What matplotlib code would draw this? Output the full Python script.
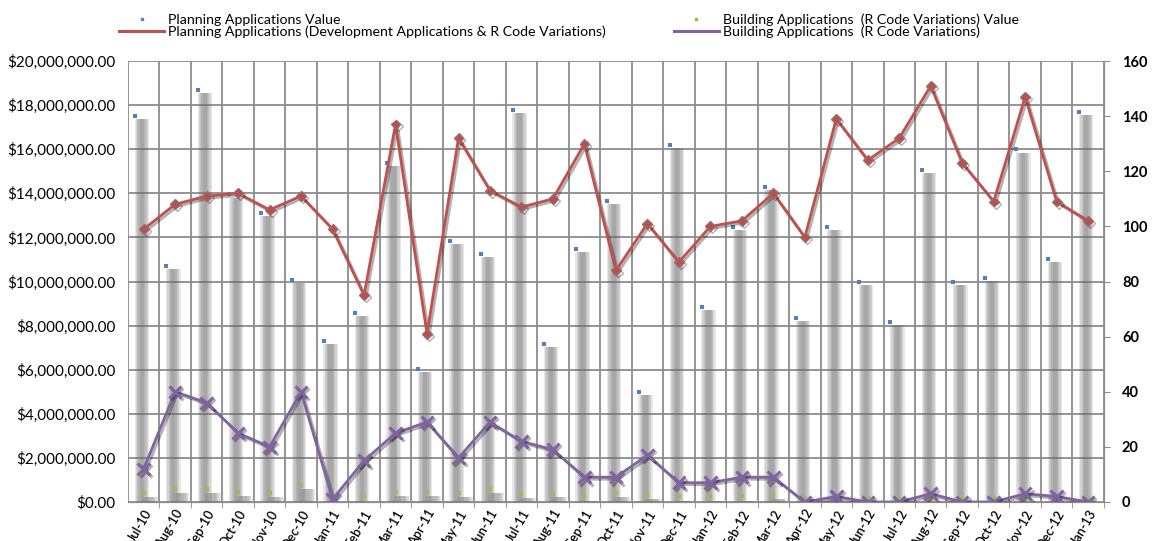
import matplotlib
matplotlib.use('Agg')
import matplotlib.pyplot as plt
import matplotlib.patheffects as pe
from matplotlib.lines import Line2D
from matplotlib.ticker import FuncFormatter, MultipleLocator
import numpy as np

plt.rcParams['font.family'] = ['Lato', 'DejaVu Sans']

# ── Data ─────────────────────────────────────────────────────────────────────
months = ['Jul-10', 'Aug-10', 'Sep-10', 'Oct-10', 'Nov-10', 'Dec-10',
          'Jan-11', 'Feb-11', 'Mar-11', 'Apr-11', 'May-11', 'Jun-11',
          'Jul-11', 'Aug-11', 'Sep-11', 'Oct-11', 'Nov-11', 'Dec-11',
          'Jan-12', 'Feb-12', 'Mar-12', 'Apr-12', 'May-12', 'Jun-12',
          'Jul-12', 'Aug-12', 'Sep-12', 'Oct-12', 'Nov-12', 'Dec-12',
          'Jan-13']

# $ values in millions (left axis)
planning_value = [17.5, 10.7, 18.68, 13.95, 13.1, 10.07, 7.3, 8.57, 15.37, 6.05,
                  11.84, 11.25, 17.78, 7.17, 11.47, 13.65, 4.99, 16.19, 8.84, 12.47,
                  14.29, 8.34, 12.47, 9.98, 8.16, 15.06, 9.98, 10.16, 16.0, 11.02,
                  17.69]
building_value = [0.21, 0.39, 0.39, 0.27, 0.21, 0.57, 0.0, 0.02, 0.27, 0.27,
                  0.21, 0.39, 0.17, 0.21, 0.06, 0.21, 0.12, 0.06, 0.06, 0.06,
                  0.12, 0.0, 0.0, 0.0, 0.0, 0.0, 0.0, 0.0, 0.0, 0.0,
                  0.0]
planning_value = [v * 1e6 for v in planning_value]
building_value = [v * 1e6 for v in building_value]

# counts (right axis)
planning_count = [99, 108, 111, 112, 106, 111, 99, 75, 137, 61,
                  132, 113, 107, 110, 130, 84, 101, 87, 100, 102,
                  112, 96, 139, 124, 132, 151, 123, 109, 147, 109,
                  102]
building_count = [12, 40, 36, 25, 20, 40, 1, 15, 25, 29,
                  16, 29, 22, 19, 9, 9, 17, 7, 7, 9,
                  9, 0, 2, 0, 0, 3, 0, 0, 3, 2,
                  0]

RED = '#C0504D'
PURPLE = '#8064A2'
BLUE = '#4F81BD'
GREEN = '#9BBB59'
GRID = '#8c8c8c'

# ── Plot ─────────────────────────────────────────────────────────────────────
fig = plt.figure(figsize=(11.61, 5.41), dpi=100)
ax = fig.add_axes([0.1102, 0.0721, 0.8406, 0.8151])
ax2 = ax.twinx()

x = np.arange(len(months))

# soft grey "shadow" columns, built from stacked translucent bars
shadow_top = np.array(planning_value) - 0.15e6
for w in [0.46, 0.38, 0.30, 0.22, 0.14]:
    ax.bar(x - 0.06, shadow_top, w, color='#6a6a6a', alpha=0.16,
           linewidth=0, zorder=2)
    ax.bar(x + 0.2, building_value, w + 0.05, color='#6a6a6a', alpha=0.12,
           linewidth=0, zorder=2)
ax.scatter(x - 0.28, planning_value, marker='s', s=5,
           color=BLUE, zorder=3, linewidths=0)
ax.scatter(x, np.array(building_value) + 0.2e6, marker='s', s=5, color=GREEN,
           zorder=3, linewidths=0)

ax.set_xlim(-0.5, len(months) - 0.5)
ax.set_ylim(0, 20e6)
ax.yaxis.set_major_locator(MultipleLocator(2e6))
ax.yaxis.set_major_formatter(FuncFormatter(lambda v, p: f'${v:,.2f}'))
ax.grid(axis='y', color=GRID, linewidth=1.3, zorder=1)
ax.set_xticks(x)
ax.set_xticklabels(months, rotation=60, ha='right', rotation_mode='anchor',
                   fontsize=9.2, fontweight='semibold')
ax.set_xticks(x + 0.5, minor=True)
ax.grid(axis='x', which='minor', color=GRID, linewidth=1.3, zorder=1)
ax.tick_params(axis='x', which='major', length=0, pad=4)
ax.tick_params(axis='x', which='minor', length=4, color=GRID)
ax.tick_params(axis='y', length=0, labelsize=11, pad=9)
ax.axvline(-0.5, color=GRID, linewidth=1.3, zorder=1)
for s in ['top', 'left']:
    ax.spines[s].set_visible(False)
ax.spines['bottom'].set_color(GRID)
ax.spines['right'].set_color(GRID)

shadow = [pe.SimpleLineShadow(offset=(1.5, -1.5), alpha=0.3), pe.Normal()]
ax2.plot(x, planning_count, color=RED, linewidth=2.0, marker='D', markersize=5,
         markerfacecolor='#B9504E', markeredgecolor='#9a6b6a', zorder=4,
         path_effects=shadow)
ax2.plot(x, building_count, color=PURPLE, linewidth=2.0, marker='x', markersize=9,
         markeredgewidth=2.2, zorder=4, path_effects=shadow)
ax2.set_ylim(0, 160)
ax2.yaxis.set_major_locator(MultipleLocator(20))
ax2.tick_params(axis='y', length=4, color=GRID, labelsize=10.5, pad=9)
for lab in ax2.get_yticklabels():
    lab.set_fontweight('bold')
for s in ['top', 'left']:
    ax2.spines[s].set_visible(False)
ax2.spines['right'].set_color(GRID)
ax2.spines['bottom'].set_color(GRID)

handles = [
    Line2D([], [], linestyle='none', marker='s', markersize=2, color=BLUE),
    Line2D([], [], color=RED, linewidth=2.2),
    Line2D([], [], linestyle='none', marker='s', markersize=2, color=GREEN),
    Line2D([], [], color=PURPLE, linewidth=2.2),
]
labels = ['Planning Applications Value',
          'Planning Applications (Development Applications & R Code Variations)',
          'Building Applications  (R Code Variations) Value',
          'Building Applications  (R Code Variations)']
fig.legend(handles, labels, ncol=2, loc='upper center', bbox_to_anchor=(0.49, 0.999),
           frameon=False, fontsize=10.2, handlelength=3.2, columnspacing=4.8,
           labelspacing=0.0, handletextpad=0.25)

plt.savefig('out.png', dpi=100)
